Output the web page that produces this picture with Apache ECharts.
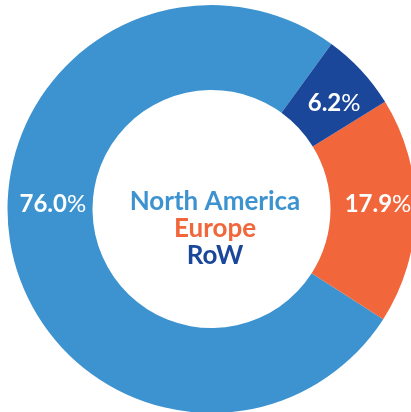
<!DOCTYPE html>
<html>
<head>
<meta charset="utf-8">
<script src="https://cdn.jsdelivr.net/npm/echarts@6/dist/echarts.min.js"></script>
<style>
html,body{margin:0;padding:0;background:#fff;}
#c{width:411px;height:412px;}
</style>
</head>
<body>
<div id="c"></div>
<script>
const categories = ['North America', 'Europe', 'RoW'];
const values = [76.0, 17.9, 6.2];
const colors = ['#3c93d0', '#f1663b', '#1b479a'];
const labelOffsets = [[3, -35], [2, -6], [2, 6]];

const chart = echarts.init(document.getElementById('c'), null, {renderer: 'canvas'});
const font = 'Lato, "Open Sans", sans-serif';
const richKeys = ['na', 'eu', 'row'];
const titleRich = {};
richKeys.forEach((k, i) => {
  titleRich[k] = {color: colors[i], fontSize: 26, fontWeight: 'bold', fontFamily: font, lineHeight: 27};
});
chart.setOption({
  animation: false,
  title: {
    text: categories.map((c, i) => '{' + richKeys[i] + '|' + c + '}').join('\n'),
    left: 210,
    top: 183,
    textAlign: 'center',
    textStyle: {rich: titleRich}
  },
  series: [{
    type: 'pie',
    center: [211.5, 209],
    radius: [119, 204],
    clockwise: false,
    startAngle: 54,
    silent: true,
    label: {
      show: true,
      position: 'inside',
      formatter: p => '{b|' + p.value.toFixed(1) + '}{p|%}',
      rich: {
        b: {color: '#fff', fontSize: 24, fontWeight: 'bold', fontFamily: font},
        p: {color: '#fff', fontSize: 24, fontWeight: 'normal', fontFamily: font}
      }
    },
    labelLine: {show: false},
    data: categories.map((c, i) => ({
      name: c,
      value: values[i],
      itemStyle: {color: colors[i]},
      label: {offset: labelOffsets[i]}
    }))
  }]
});
</script>
</body>
</html>
